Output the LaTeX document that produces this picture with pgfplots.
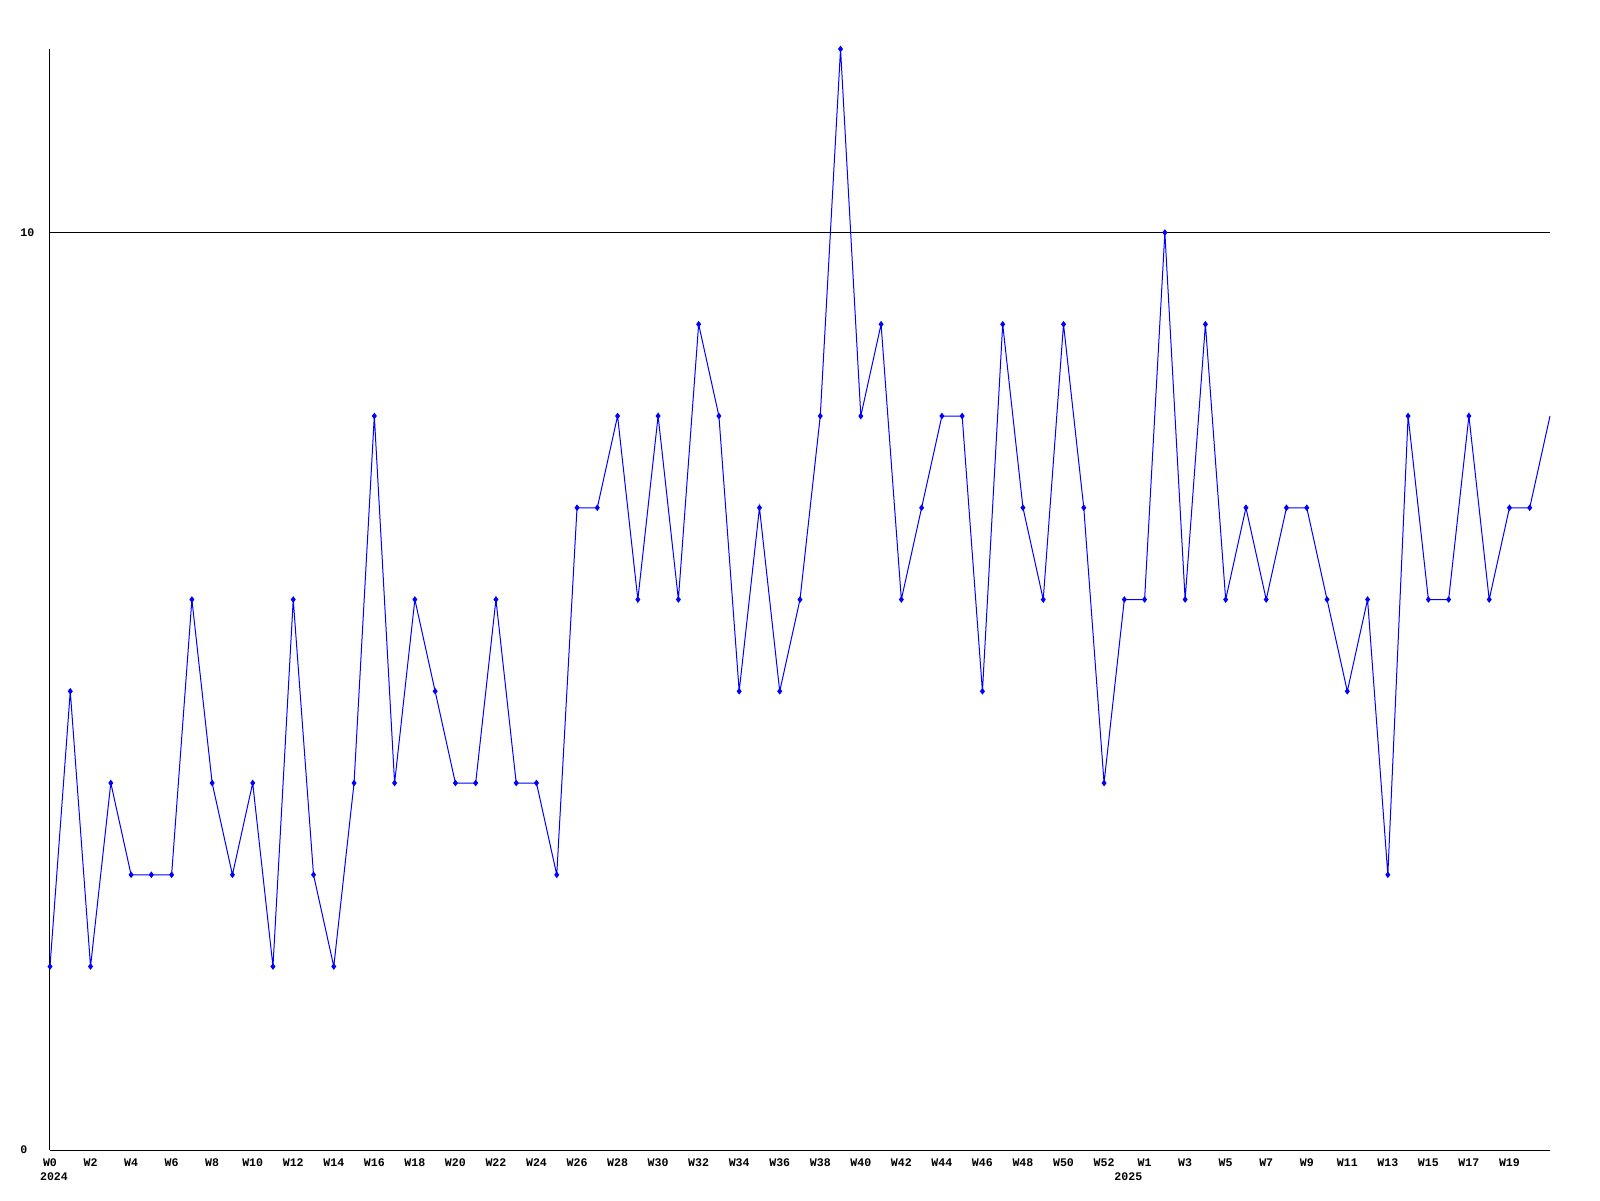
\documentclass[border=0pt]{standalone}
\usepackage{pgfplots}
\pgfplotsset{compat=1.18}
\usepackage{fontspec}
\setmainfont{Liberation Mono}
\begin{document}
\begin{tikzpicture}
\begin{axis}[name=ax,
  scale only axis, width=150mm, height=110.1mm,
  xmin=0, xmax=74, ymin=0, ymax=12,
  axis x line=bottom, axis y line=left,
  axis line style={-, black, line width=0.1mm},
  ytick={0,10}, yticklabels={0,10},
  ymajorgrids, grid style={black, line width=0.1mm},
  major tick length=0pt,
  xtick={0,2,...,52,54,56,...,72},
  xticklabels={W0,W2,W4,W6,W8,W10,W12,W14,W16,W18,W20,W22,W24,W26,W28,W30,W32,W34,W36,W38,W40,W42,W44,W46,W48,W50,W52,W1,W3,W5,W7,W9,W11,W13,W15,W17,W19},
  tick label style={font=\fontsize{3.3}{4}\selectfont\bfseries},
  xticklabel style={yshift=0.4mm},
  yticklabel style={anchor=west, xshift=-4.2mm},
  clip=false,
]
\addplot[blue, line width=0.1mm, mark=diamond*, mark size=0.25mm] coordinates {
(0,2)(1,5)(2,2)(3,4)(4,3)(5,3)(6,3)(7,6)(8,4)(9,3)
(10,4)(11,2)(12,6)(13,3)(14,2)(15,4)(16,8)(17,4)(18,6)(19,5)
(20,4)(21,4)(22,6)(23,4)(24,4)(25,3)(26,7)(27,7)(28,8)(29,6)
(30,8)(31,6)(32,9)(33,8)(34,5)(35,7)(36,5)(37,6)(38,8)(39,12)
(40,8)(41,9)(42,6)(43,7)(44,8)(45,8)(46,5)(47,9)(48,7)(49,6)
(50,9)(51,7)(52,4)(53,6)(54,6)(55,10)(56,6)(57,9)(58,6)(59,7)
(60,6)(61,7)(62,7)(63,6)(64,5)(65,6)(66,3)(67,8)(68,6)(69,6)
(70,8)(71,6)(72,7)(73,7)
};
\addplot[blue, line width=0.1mm] coordinates {(73,7)(74,8)};
\node[font=\fontsize{3.3}{4}\selectfont\bfseries] at ([xshift=0.4mm, yshift=-2.7mm]axis cs:0,0) {2024};
\node[font=\fontsize{3.3}{4}\selectfont\bfseries] at ([xshift=0.4mm, yshift=-2.7mm]axis cs:53,0) {2025};
\end{axis}
\pgfresetboundingbox
\useasboundingbox ([xshift=-5mm, yshift=-5mm]ax.south west) rectangle ([xshift=5mm, yshift=4.9mm]ax.north east);
\end{tikzpicture}
\end{document}
